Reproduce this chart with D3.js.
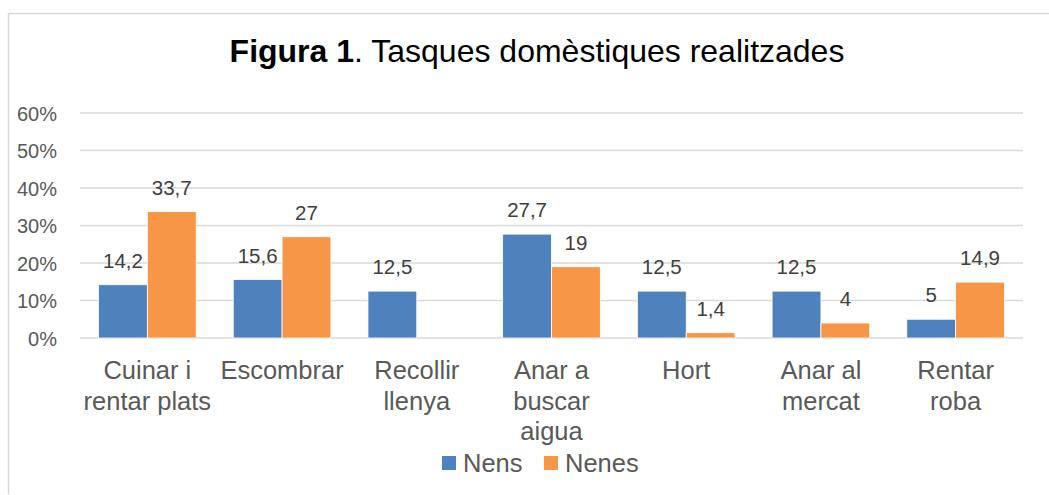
<!DOCTYPE html>
<meta charset="utf-8">
<head>
  <title>Tasques domèstiques</title>
  <style>
    body { margin: 0; background: #fff; }
    svg text { font-family: "Liberation Sans", Arial, sans-serif; }
  </style>
  <script src="https://d3js.org/d3.v7.min.js"></script>
</head>
<body>
  <svg id="chart" width="1049" height="495"></svg>
  <script>
// data
var categories = [
  ["Cuinar i", "rentar plats"],
  ["Escombrar"],
  ["Recollir", "llenya"],
  ["Anar a", "buscar", "aigua"],
  ["Hort"],
  ["Anar al", "mercat"],
  ["Rentar", "roba"]
];
var nens  = [14.2, 15.6, 12.5, 27.7, 12.5, 12.5, 5];
var nenes = [33.7, 27, null, 19, 1.4, 4, 14.9];
var series = [
  { name: "Nens",  values: nens,  color: "#4f81bd" },
  { name: "Nenes", values: nenes, color: "#f79646" }
];
var yTicks = [0, 10, 20, 30, 40, 50, 60];

var svg = d3.select("#chart");

// frame (only top + left edge visible)
svg.append("line").attr("x1", 8).attr("x2", 1049).attr("y1", 13.5).attr("y2", 13.5)
  .attr("stroke", "#d9d9d9").attr("stroke-width", 1.5);
svg.append("line").attr("x1", 8.5).attr("x2", 8.5).attr("y1", 13).attr("y2", 494)
  .attr("stroke", "#d9d9d9").attr("stroke-width", 1.5);

// title
var title = svg.append("text")
  .attr("x", 537).attr("y", 62)
  .attr("text-anchor", "middle")
  .style("font-size", "32px")
  .attr("fill", "#000");
title.append("tspan").style("font-weight", "bold").text("Figura 1");
title.append("tspan").text(". Tasques domèstiques realitzades");

var x0 = d3.scaleBand()
  .domain(d3.range(categories.length))
  .range([80, 1023])
  .paddingInner(0.275)
  .paddingOuter(0.1375);

var x1 = d3.scaleBand()
  .domain(series.map(function(d) { return d.name; }))
  .range([0, x0.bandwidth()]);

var y = d3.scaleLinear().domain([0, 60]).range([338, 113]);

// grid
svg.append("g").selectAll("line")
  .data(yTicks)
  .enter().append("line")
  .attr("x1", 80).attr("x2", 1023)
  .attr("y1", function(d) { return y(d); })
  .attr("y2", function(d) { return y(d); })
  .attr("stroke", "#d9d9d9")
  .attr("stroke-width", 1.5);

// y axis labels
var yAxis = d3.axisLeft(y)
  .tickValues(yTicks)
  .tickSize(0)
  .tickPadding(0)
  .tickFormat(function(d) { return d + "%"; });
var ya = svg.append("g").attr("transform", "translate(57,0)").call(yAxis);
ya.select(".domain").remove();
ya.selectAll("text")
  .style("font-size", "20px")
  .attr("fill", "#595959")
  .attr("dy", "0.36em");

// bars
var groups = svg.append("g").selectAll("g")
  .data(series)
  .enter().append("g")
  .attr("fill", function(d) { return d.color; });

groups.selectAll("rect")
  .data(function(s) {
    return s.values.map(function(v, i) { return { i: i, v: v, s: s.name }; })
      .filter(function(d) { return d.v != null; });
  })
  .enter().append("rect")
  .attr("x", function(d) { return x0(d.i) + x1(d.s); })
  .attr("width", x1.bandwidth())
  .attr("y", function(d) { return y(d.v); })
  .attr("height", function(d) { return y(0) - y(d.v); })
  .attr("stroke", "#fff")
  .attr("stroke-width", 0.8);

// value labels
groups.selectAll("text")
  .data(function(s) {
    return s.values.map(function(v, i) { return { i: i, v: v, s: s.name }; })
      .filter(function(d) { return d.v != null; });
  })
  .enter().append("text")
  .attr("x", function(d) { return x0(d.i) + x1(d.s) + x1.bandwidth() / 2; })
  .attr("y", function(d) { return y(d.v) - 17; })
  .attr("text-anchor", "middle")
  .style("font-size", "20.5px")
  .attr("fill", "#404040")
  .text(function(d) { return String(d.v).replace(".", ","); });

// category labels
var cats = svg.append("g").selectAll("text")
  .data(categories)
  .enter().append("text")
  .attr("x", function(d, i) { return x0(i) + x0.bandwidth() / 2; })
  .attr("y", 379)
  .attr("text-anchor", "middle")
  .style("font-size", "25.5px")
  .attr("fill", "#595959");
cats.selectAll("tspan")
  .data(function(d) { return d; })
  .enter().append("tspan")
  .attr("x", function() { return d3.select(this.parentNode).attr("x"); })
  .attr("dy", function(d, i) { return i === 0 ? 0 : 30.5; })
  .text(function(d) { return d; });

// legend
var legendX = [442, 544];
var legend = svg.append("g").selectAll("g")
  .data(series)
  .enter().append("g")
  .attr("transform", function(d, i) { return "translate(" + legendX[i] + ",456)"; });
legend.append("rect")
  .attr("width", 14).attr("height", 14)
  .attr("fill", function(d) { return d.color; });
legend.append("text")
  .attr("x", 21).attr("y", 16)
  .style("font-size", "25.5px")
  .attr("fill", "#595959")
  .text(function(d) { return d.name; });
  </script>
</body>
</html>
